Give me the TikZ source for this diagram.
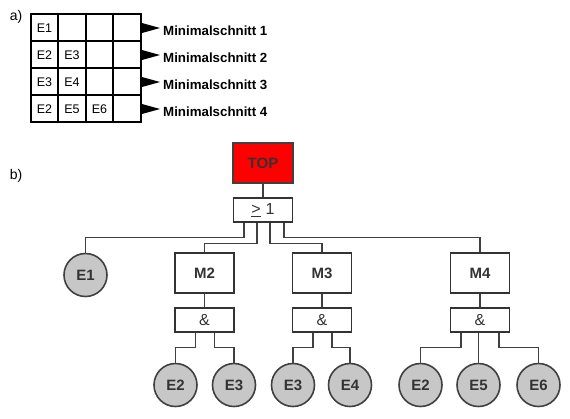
\documentclass[tikz,border=0pt]{standalone}
\usepackage{fontspec}
\setmainfont{Liberation Sans}
\begin{document}
\begin{tikzpicture}[x=1pt,y=-1pt,
  grid/.style={line width=1.2pt,black},
  cell/.style={font=\fontsize{12.5}{14}\selectfont,inner sep=0pt},
  cutlbl/.style={font=\fontsize{13.3}{15}\selectfont\bfseries,inner sep=0pt,anchor=base west},
  flag/.style={fill=black,draw=none},
  lbl/.style={font=\fontsize{14}{16}\selectfont,inner sep=0pt},
  topbox/.style={draw=black!75,line width=1.7pt,fill=red,minimum width=60pt,minimum height=40pt,inner sep=0pt,text=black!80,font=\fontsize{15}{17}\selectfont\bfseries},
  gate/.style={draw=black!80,line width=1.5pt,fill=white,minimum width=59pt,minimum height=24pt,inner sep=0pt,font=\fontsize{16}{18}\selectfont,text=black!80},
  mbox/.style={draw=black!80,line width=1.6pt,fill=white,minimum width=59pt,minimum height=40pt,inner sep=0pt,font=\fontsize{15}{17}\selectfont\bfseries,text=black!80},
  ev/.style={circle,draw=black!75,line width=1.6pt,fill=black!22,minimum size=43pt,inner sep=0pt,font=\fontsize{15}{17}\selectfont\bfseries,text=black!80},
  conn/.style={draw=black!75,line width=1.2pt}]
\useasboundingbox (0,0) rectangle (570,418);
% part a)
\node[lbl] (la) at (16,17) {a)};
\draw[grid] (31,14) rectangle (141,122);
\foreach \x in {58,86,113} \draw[grid] (\x,14) -- (\x,122);
\foreach \y in {41,68,95} \draw[grid] (31,\y) -- (141,\y);
\node[cell] (c11) at (44.5,28.5) {E1};
\node[cell] (c21) at (44.5,55.5) {E2};
\node[cell] (c22) at (72,55.5) {E3};
\node[cell] (c31) at (44.5,82.5) {E3};
\node[cell] (c32) at (72,82.5) {E4};
\node[cell] (c41) at (44.5,109.5) {E2};
\node[cell] (c42) at (72,109.5) {E5};
\node[cell] (c43) at (99.5,109.5) {E6};
\foreach \i/\yy in {1/0,2/27,3/54,4/81}{
  \fill[flag] (142,23+\yy) -- (142,33+\yy) -- (160,28+\yy) -- cycle;
  \node[cutlbl] (ms\i) at (163,35+\yy) {Minimalschnitt \i};
}
% part b)
\node[lbl] (lb) at (16,176) {b)};
\node[topbox] (top) at (263,163) {TOP};
\node[gate] (g) at (263,210) {\underline{>}\kern0.3em1};
\node[ev] (e1) at (85.5,275) {E1};
\node[mbox] (m2) at (204.5,273) {M2};
\node[mbox] (m3) at (322,273) {M3};
\node[mbox] (m4) at (480,273) {M4};
\node[gate] (a2) at (204.5,320) {\&};
\node[gate] (a3) at (322,320) {\&};
\node[gate] (a4) at (480,320) {\&};
\node[ev] (e2a) at (175.5,385) {E2};
\node[ev] (e3a) at (234,385) {E3};
\node[ev] (e3b) at (293,385) {E3};
\node[ev] (e4b) at (350,385) {E4};
\node[ev] (e2c) at (420.5,385) {E2};
\node[ev] (e5c) at (478.5,385) {E5};
\node[ev] (e6c) at (538.5,385) {E6};
% connectors
\draw[conn] (top) -- (g);
\draw[conn] ([xshift=-19pt]g.south) -- ++(0,15) -| (e1.north);
\draw[conn] ([xshift=-6pt]g.south) -- ++(0,21) -| (m2.north);
\draw[conn] ([xshift=7pt]g.south) -- ++(0,21) -| (m3.north);
\draw[conn] ([xshift=21pt]g.south) -- ++(0,15) -| (m4.north);
\draw[conn] (m2) -- (a2);
\draw[conn] (m3) -- (a3);
\draw[conn] (m4) -- (a4);
\draw[conn] ([xshift=-9pt]a2.south) -- ++(0,14.5) -| (e2a.north);
\draw[conn] ([xshift=10pt]a2.south) -- ++(0,14.5) -| (e3a.north);
\draw[conn] ([xshift=-9pt]a3.south) -- ++(0,14.5) -| (e3b.north);
\draw[conn] ([xshift=10pt]a3.south) -- ++(0,14.5) -| (e4b.north);
\draw[conn] ([xshift=-19pt]a4.south) -- ++(0,14.5) -| (e2c.north);
\draw[conn] (a4.south -| e5c.north) -- (e5c.north);
\draw[conn] ([xshift=19pt]a4.south) -- ++(0,14.5) -| (e6c.north);
\end{tikzpicture}
\end{document}
